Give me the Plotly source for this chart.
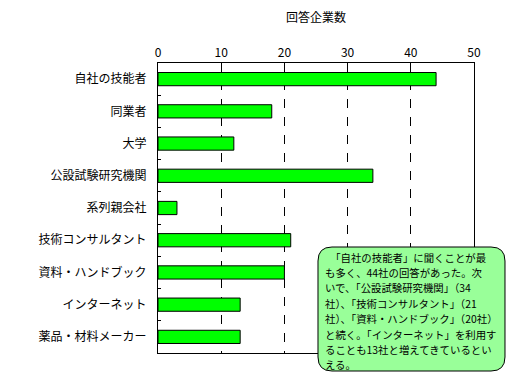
import plotly.graph_objects as go

categories = ["自社の技能者", "同業者", "大学", "公設試験研究機関", "系列親会社",
              "技術コンサルタント", "資料・ハンドブック", "インターネット", "薬品・材料メーカー"]
values = [44, 18, 12, 34, 3, 21, 20, 13, 13]
x_ticks = [0, 10, 20, 30, 40, 50]
axis_title = "回答企業数"
note_lines = [
    "\u3000「自社の技能者」に聞くことが最",
    "も多く、44社の回答があった。次",
    "いで、「公設試験研究機関」（34",
    "社）、「技術コンサルタント」（21",
    "社）、「資料・ハンドブック」（20社）",
    "と続く。「インターネット」を利用す",
    "ることも13社と増えてきているとい",
    "える。",
]

W, H = 510, 379
L, R, T, B = 158, 474, 63, 353
FONT = "Noto Sans CJK JP"

fig = go.Figure(go.Bar(
    x=values, y=categories, orientation="h", width=0.41,
    marker=dict(color="#00FF00", line=dict(color="black", width=1)),
))

def px2paper(x, y):
    return (x - L) / (R - L), (B - y) / (B - T)

# rounded rectangle for note
x0, y0, x1, y1, r = 318, 247, 505, 371, 14
def P(x, y):
    a, b = px2paper(x, y)
    return f"{a:.4f},{b:.4f}"
path = (f"M {P(x0+r, y0)} L {P(x1-r, y0)} Q {P(x1, y0)} {P(x1, y0+r)} "
        f"L {P(x1, y1-r)} Q {P(x1, y1)} {P(x1-r, y1)} L {P(x0+r, y1)} "
        f"Q {P(x0, y1)} {P(x0, y1-r)} L {P(x0, y0+r)} Q {P(x0, y0)} {P(x0+r, y0)} Z")
fig.add_shape(type="path", path=path, xref="paper", yref="paper",
              fillcolor="#99FF99", line=dict(color="black", width=1), layer="above")

annotations = []
for i, line in enumerate(note_lines):
    ax, ay = px2paper(323, 257 + i * 15.4)
    annotations.append(dict(x=ax, y=ay, xref="paper", yref="paper", text=line,
                            showarrow=False, xanchor="left", yanchor="middle",
                            font=dict(family=FONT, size=10.4, color="black")))
tx, ty = px2paper(316, 17)
annotations.append(dict(x=tx, y=ty, xref="paper", yref="paper", text=axis_title,
                        showarrow=False, xanchor="center", yanchor="middle",
                        font=dict(family=FONT, size=12, color="black")))

fig.update_layout(
    width=W, height=H,
    margin=dict(l=L, r=W - R, t=T, b=H - B, pad=0),
    paper_bgcolor="white", plot_bgcolor="white",
    showlegend=False,
    annotations=annotations,
    font=dict(family=FONT, size=12, color="black"),
    xaxis=dict(side="top", range=[0, 50], tickvals=x_ticks, showgrid=True,
               gridcolor="black", griddash="dash", gridwidth=1,
               showline=True, linecolor="black", linewidth=1, mirror=True,
               ticks="", zeroline=False, tickfont=dict(size=12, family=FONT)),
    yaxis=dict(autorange="reversed", showline=True, linecolor="black", linewidth=1,
               mirror=True, ticks="inside", ticklen=3, tickcolor="black",
               tickson="boundaries", showgrid=False,
               tickfont=dict(size=12, family=FONT), ticklabelstandoff=8),
)

fig.write_html("out.html")
